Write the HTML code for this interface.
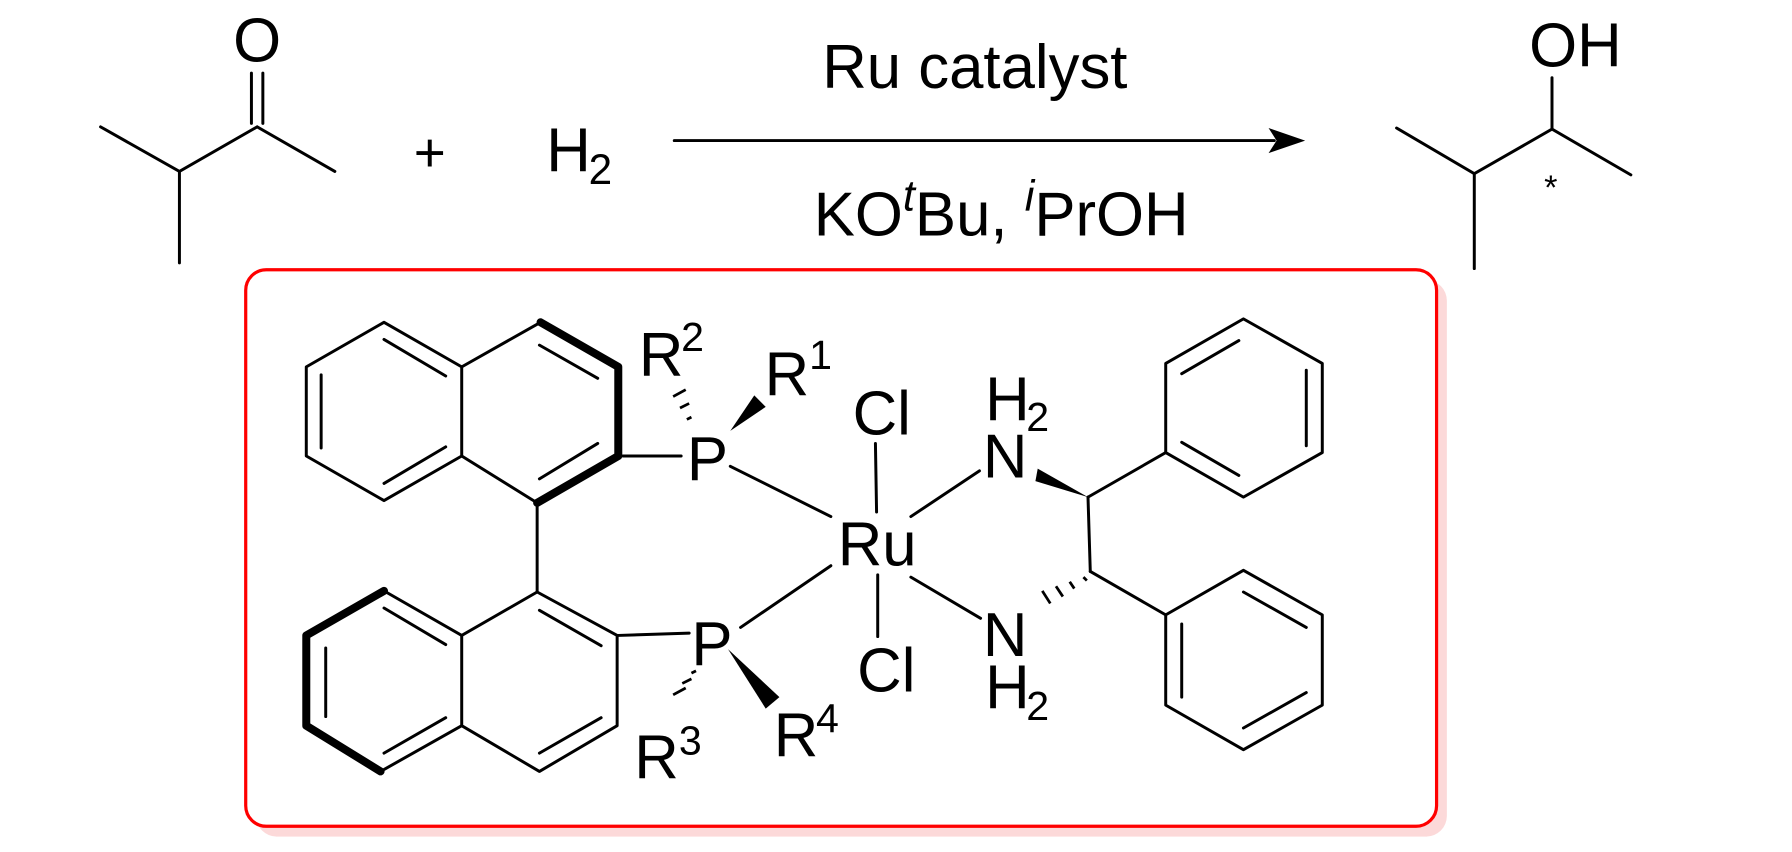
<!DOCTYPE html>
<html><head><meta charset="utf-8"><style>
html,body{margin:0;padding:0;background:#fff;}
svg{display:block;}
text{font-family:"Liberation Sans",Arial,sans-serif;fill:#000;}
</style></head><body>
<svg width="1792" height="852" viewBox="0 0 1568 745.5" xmlns="http://www.w3.org/2000/svg">
<g stroke="#000" stroke-width="2.6" fill="none" stroke-linecap="round">
<!-- ketone -->
<polyline points="88,111 157,150 225,111 293,150"/>
<line x1="157" y1="150" x2="157" y2="230"/>
<line x1="220" y1="108" x2="220" y2="64"/>
<line x1="230" y1="108" x2="230" y2="64"/>
<!-- arrow -->
<line x1="590" y1="123" x2="1115" y2="123"/>
<!-- product -->
<polyline points="1222,112 1290,152 1358,113 1427,153"/>
<line x1="1290" y1="152" x2="1290" y2="235"/>
<line x1="1358" y1="113" x2="1358" y2="68"/>
</g>
<polygon points="1142,123 1110,112 1117,123 1110,134" fill="#000"/>
<text x="225" y="54" font-size="54" text-anchor="middle">O</text>
<text x="376" y="150" font-size="48" text-anchor="middle">+</text>
<text x="478" y="150" font-size="54">H</text><text x="515" y="161" font-size="37">2</text>
<text x="853" y="77" font-size="54" text-anchor="middle">Ru catalyst</text>
<text x="712" y="206" font-size="54">KO<tspan font-size="38" font-style="italic" dy="-22">t</tspan><tspan dy="22">Bu, </tspan><tspan font-size="38" font-style="italic" dy="-22">i</tspan><tspan dy="22">PrOH</tspan></text>
<text x="1338" y="58" font-size="54">OH</text>
<text x="1357" y="174" font-size="30" text-anchor="middle">*</text>

<!-- box -->
<rect x="224" y="245" width="1042" height="487" rx="18" fill="#fbd0d0" opacity="0.8"/>
<rect x="215" y="236" width="1042" height="487" rx="18" fill="#fff" stroke="#ff0000" stroke-width="2.8"/>

<g stroke="#000" stroke-width="2.6" fill="none" stroke-linecap="round" stroke-linejoin="round">
<polygon points="336,282 404,321 404,399 336,438 268,399 268,321"/>
<polyline points="404,321 473,282"/>
<polyline points="404,399 470,440"/>
<line x1="336" y1="297" x2="390" y2="329"/>
<line x1="281" y1="328" x2="281" y2="392"/>
<line x1="336" y1="423" x2="390" y2="391"/>
<line x1="472" y1="302" x2="523" y2="331"/>
<line x1="472" y1="419" x2="523" y2="388"/>
<line x1="470" y1="440" x2="470" y2="518"/>
<polyline points="470,518 540,556 540,635 472,675 404,635 404,556 470,518"/>
<line x1="404" y1="556" x2="336" y2="517"/>
<line x1="404" y1="635" x2="333" y2="675"/>
<line x1="336" y1="532" x2="390" y2="564"/>
<line x1="285" y1="567" x2="285" y2="627"/>
<line x1="336" y1="659" x2="390" y2="628"/>
<line x1="472" y1="534" x2="526" y2="565"/>
<line x1="472" y1="659" x2="526" y2="628"/>
<line x1="545" y1="399" x2="596" y2="399"/>
<line x1="639" y1="408" x2="727" y2="452"/>
<line x1="766" y1="388" x2="767" y2="448"/>
<line x1="727" y1="495" x2="648" y2="549"/>
<line x1="768" y1="503" x2="768" y2="557"/>
<line x1="541" y1="556" x2="603" y2="554"/>
<line x1="797" y1="452" x2="857" y2="412"/>
<line x1="797" y1="505" x2="858" y2="541"/>
<line x1="952" y1="435" x2="954" y2="500"/>
<line x1="952" y1="435" x2="1020" y2="396"/>
<polygon points="1020,396 1020,318 1088,279 1157,318 1157,396 1088,435"/>
<line x1="1034" y1="327" x2="1084" y2="298"/>
<line x1="1143" y1="324" x2="1143" y2="390"/>
<line x1="1034" y1="387" x2="1084" y2="416"/>
<line x1="954" y1="500" x2="1020" y2="538"/>
<polygon points="1020,538 1088,499 1157,538 1157,617 1088,656 1020,617"/>
<line x1="1034" y1="546" x2="1034" y2="610"/>
<line x1="1088" y1="518" x2="1143" y2="549"/>
<line x1="1088" y1="637" x2="1143" y2="606"/>
</g>
<g stroke="#000" stroke-width="7" fill="none" stroke-linecap="round" stroke-linejoin="round">
<polyline points="473,282 541,321 541,399 470,440"/>
<polyline points="336,517 268,556 268,635 333,675"/>
</g>
<polygon points="639,377 660,346 670,356" fill="#000"/>
<polygon points="637,568 670,620 682,610" fill="#000"/>
<polygon points="952,435 908,410 906,421" fill="#000"/>
<g stroke="#000" stroke-width="2.4">
<line x1="601" y1="367" x2="605" y2="365"/>
<line x1="595" y1="357" x2="603" y2="353"/>
<line x1="589" y1="347" x2="600" y2="341"/>
<line x1="605" y1="589" x2="609" y2="587"/>
<line x1="597" y1="598" x2="605" y2="594"/>
<line x1="589" y1="608" x2="600" y2="602"/>
<line x1="948" y1="505" x2="951" y2="508"/>
<line x1="936" y1="509" x2="940" y2="515"/>
<line x1="924" y1="513" x2="930" y2="522"/>
<line x1="912" y1="517" x2="919" y2="528"/>
</g>
<g font-size="54">
<text x="601" y="420">P</text>
<text x="605" y="582">P</text>
<text x="733" y="495">Ru</text>
<text x="746" y="380">Cl</text>
<text x="750" y="605">Cl</text>
<text x="860" y="418">N</text>
<text x="860" y="574">N</text>
<text x="862" y="368">H</text>
<text x="862" y="620">H</text>
<text x="559" y="329">R</text>
<text x="669" y="346">R</text>
<text x="555" y="681">R</text>
<text x="677" y="662">R</text>
</g>
<g font-size="36">
<text x="898" y="377">2</text>
<text x="898" y="630">2</text>
<text x="596" y="307">2</text>
<text x="708" y="323">1</text>
<text x="594" y="660">3</text>
<text x="714" y="641">4</text>
</g>
</svg>
</body></html>
